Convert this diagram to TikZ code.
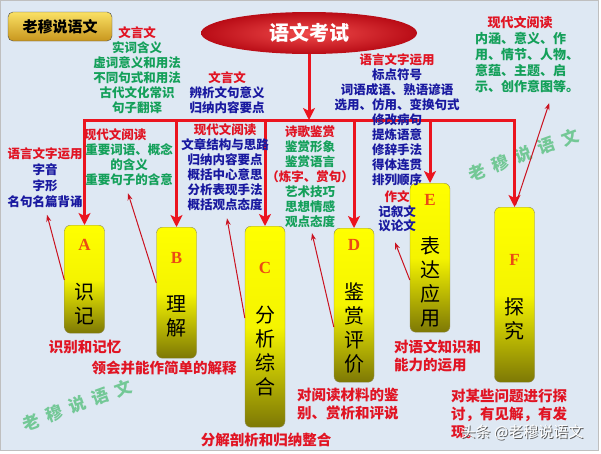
\documentclass[tikz,border=0pt]{standalone}
\usepackage{fontspec}
\setmainfont{Noto Sans CJK SC}
\newfontfamily\letterfont{Liberation Serif}
\usetikzlibrary{arrows.meta, calc, shapes.geometric}

\definecolor{bgblue}{RGB}{222,232,243}
\definecolor{hred}{RGB}{225,20,35}
\definecolor{tblue}{RGB}{25,25,160}
\definecolor{tgreen}{RGB}{20,160,90}
\definecolor{lred}{RGB}{235,20,30}
\definecolor{boxdark}{RGB}{125,120,5}
\definecolor{lettercol}{RGB}{235,75,20}
\definecolor{wmgreen}{RGB}{115,200,150}
\definecolor{goldtop}{RGB}{250,225,100}
\definecolor{goldbot}{RGB}{200,150,30}

\tikzset{trunktip/.tip={Stealth[length=12pt,width=12pt,inset=3pt]}}

\begin{document}
\begin{tikzpicture}[x=1pt, y=-1pt,
	trunk/.style={line width=3pt, color=lred, line join=miter},
	pointer/.style={line width=1pt, color=hred!90!black, -{Stealth[length=7pt,width=5pt]}},
	grade/.style={draw=gray!60!olive, rounded corners=6pt, minimum width=40pt, anchor=north,
		top color=yellow, bottom color=boxdark, middle color=yellow!92!boxdark},
	gletter/.style={font=\letterfont\bfseries\fontsize{17}{17}\selectfont, text=lettercol},
	gword/.style={font=\fontsize{20}{24}\selectfont, align=center, inner sep=0pt},
	txt/.style={font=\bfseries\fontsize{12.5}{15}\selectfont, align=center, inner sep=1pt},
	gcaption/.style={font=\bfseries\fontsize{14.5}{18}\selectfont, text=hred, align=left, inner sep=1pt},
	wmark/.style={font=\bfseries\fontsize{17}{17}\selectfont, text=wmgreen, rotate=20}]
	\useasboundingbox[fill=white] (0,0) rectangle (601,453);
	\fill[bgblue, draw=gray!50] (0.5,0.5) rectangle (598.5,450.5);
	\coordinate (bar) at (0,120);

	\foreach \c [count=\i from 0] in {老,穆,说,语,文} {
		\node[wmark] (wl\i) at ({31+23*\i},{422-8.5*\i}) {\c};
		\node[wmark] (wr\i) at ({477+23.2*\i},{172-8.75*\i}) {\c};
	}

	\node[draw=gray!60!black, rounded corners=5pt, top color=goldtop, bottom color=goldbot,
		minimum width=104pt, minimum height=29pt, font=\bfseries\fontsize{15}{15}\selectfont] (logo) at (60,26.5) {老穆说语文};
	\node[ellipse, minimum width=216pt, minimum height=42pt, shading=radial,
		inner color={rgb,255:red,240;green,75;blue,75}, outer color={rgb,255:red,185;green,12;blue,22},
		font=\bfseries\fontsize{20}{20}\selectfont, text=white] (exam) at (309,33) {语文考试};

	\foreach \n/\x/\t/\b/\l/\m/\s in {A/84.5/225/333/245/304/{识\\记}, B/176.5/227/358/258/316.5/{理\\解},
		C/265/226/427/268/351.5/{分\\析\\综\\合}, D/354/228/382/245/328.5/{鉴\\赏\\评\\价},
		E/430/183/332/200/281.5/{表\\达\\应\\用}, F/514.5/207/382/260/318.5/{探\\究}} {
		\node[grade, minimum height={\b-\t}] (\n) at (\x,\t) {};
		\node[gletter] (let\n) at (\x,\l) {\n};
		\node[gword] (word\n) at (\x,\m) {\s};
	}

	\draw[trunk, trunktip-trunktip] (A.north) -- (A.north |- bar) -- (F.north |- bar) -- (F.north);
	\foreach \n in {B,C,D,E}
		\draw[trunk, -trunktip] (\n.north |- bar) -- (\n.north);
	\draw[trunk, -trunktip] (exam.south) -- (exam.south |- bar);

	\node[txt, text=tgreen] (wyA) at (137,70.5) {\textcolor{hred}{文言文}\\实词含义\\虚词意义和用法\\不同句式和用法\\古代文化常识\\句子翻译};
	\node[txt, text=tblue] (wyB) at (227,92.5) {\textcolor{hred}{文言文}\\辨析文句意义\\归纳内容要点};
	\node[txt, text=tblue] (yyB) at (397,119.5) {\textcolor{hred}{语言文字运用}\\标点符号\\词语成语、熟语谚语\\选用、仿用、变换句式\\修改病句\\提炼语意\\修辞手法\\得体连贯\\排列顺序};
	\node[txt, text=tblue, font=\bfseries\fontsize{12.5}{14.5}\selectfont] (zw) at (397,211.5) {\textcolor{hred}{作文}\\记叙文\\议论文};
	\node[txt, text=hred, font=\bfseries\fontsize{13}{16}\selectfont] (xdTt) at (520,23) {现代文阅读};
	\node[txt, text=tgreen, align=left, anchor=west, font=\bfseries\fontsize{13}{16}\selectfont] (xdT) at (474,62.5) {内涵、意义、作\\用、情节、人物、\\意蕴、主题、启\\示、创作意图等。};
	\node[txt, text=tblue, font=\bfseries\fontsize{12.5}{16}\selectfont] (yyA) at (45,177.5) {\textcolor{hred}{语言文字运用}\\字音\\字形\\名句名篇背诵};
	\node[txt, text=hred] (xdBt) at (115,135) {现代文阅读};
	\node[txt, text=tgreen] (xdB) at (129,165) {重要词语、概念\\的含义\\重要句子的含意};
	\node[txt, text=tblue] (xdC) at (225,167.5) {\textcolor{hred}{现代文阅读}\\文章结构与思路\\归纳内容要点\\概括中心意思\\分析表现手法\\概括观点态度};
	\node[txt, text=tgreen] (sg) at (310,177) {\textcolor{hred}{诗歌鉴赏}\\鉴赏形象\\鉴赏语言\\\textcolor{hred}{（炼字、赏句）}\\艺术技巧\\思想情感\\观点态度};

	\draw[pointer] ($(A.north west)+(0,55)$) -- ($(yyA.south)+(2,6)$);
	\draw[pointer] ($(B.north west)+(0,56)$) -- ($(xdB.south)+(-1,6)$);
	\draw[pointer] ($(C.north west)+(0,92)$) -- ($(xdC.south)+(2,6)$);
	\draw[pointer] ($(D.north west)+(0,99)$) -- ($(sg.south)+(2,4)$);
	\draw[pointer] ($(E.north west)+(0,97)$) -- ($(zw.south)+(-2,9)$);
	\draw[pointer] ($(F.north)+(1,-2)$) -- ($(xdT.south)+(22,9)$);

	\node[gcaption] (capA) at (85,347) {识别和记忆};
	\node[gcaption] (capB) at (164,368) {领会并能作简单的解释};
	\node[gcaption] (capC) at (266,440) {分解剖析和归纳整合};
	\node[gcaption, anchor=west] (capD) at (296,404) {对阅读材料的鉴\\别、赏析和评说};
	\node[gcaption, anchor=west] (capE) at (393,356) {对语文知识和\\能力的运用};
	\node[gcaption, anchor=west] (capF) at (450,413.5) {对某些问题进行探\\讨，有见解，有发\\现。};

	\node[font=\fontsize{15}{15}\selectfont, text=gray!70!black] (ttS) at (523,433) {头条 @老穆说语文};
	\node[font=\fontsize{15}{15}\selectfont, text=white] (tt) at (522,432) {头条 @老穆说语文};
\end{tikzpicture}
\end{document}
